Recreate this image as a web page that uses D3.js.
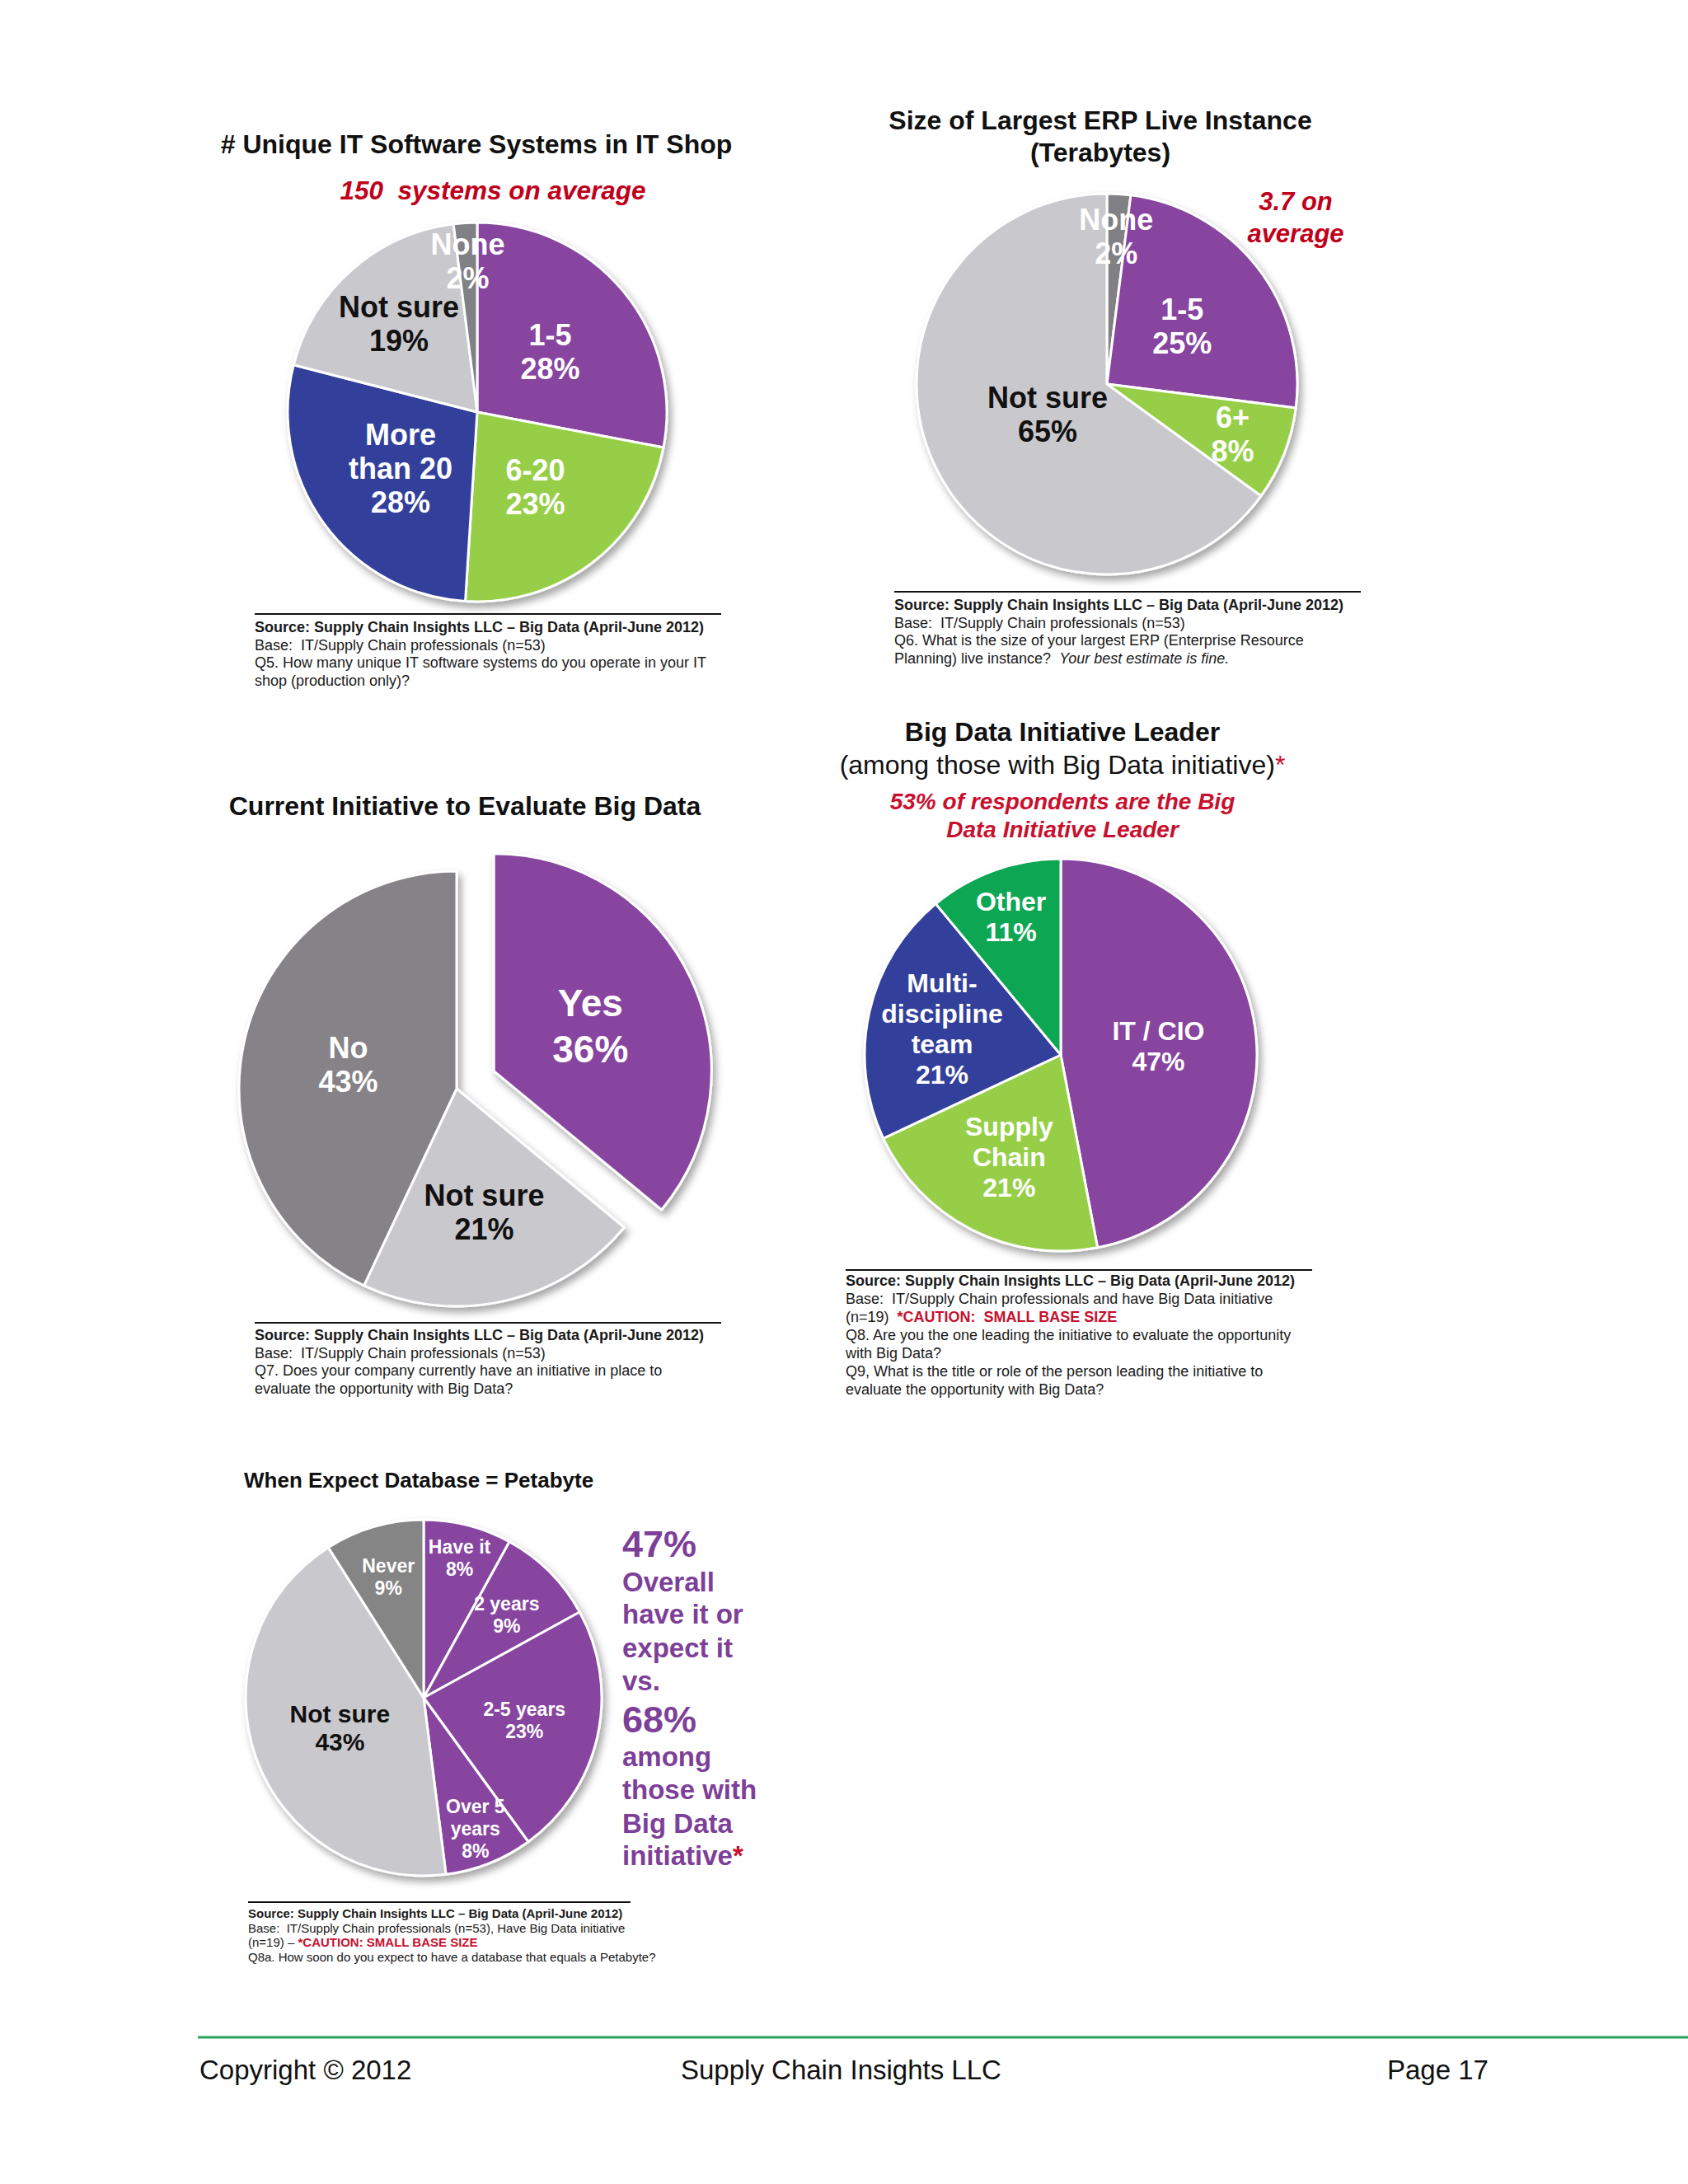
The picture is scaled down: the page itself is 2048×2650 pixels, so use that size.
<!DOCTYPE html>
<html><head><meta charset="utf-8">
<script src="https://cdn.jsdelivr.net/npm/d3@7"></script>
<style>
html,body{margin:0;padding:0;background:#fff;}
svg text{font-family:"Liberation Sans",Arial,Helvetica,sans-serif; white-space:pre;}
</style></head><body>
<svg id="page" width="2048" height="2650"></svg>
<script>
// ---------------- DATA ----------------
const itCategories = ["1-5","6-20","More than 20","Not sure","None"];
const itValues = [28,23,28,19,2];
const itLabelLines = [["1-5","28%"],["6-20","23%"],["More","than 20","28%"],["Not sure","19%"],["None","2%"]];

const erpCategories = ["None","1-5","6+","Not sure"];
const erpValues = [2,25,8,65];
const erpLabelLines = [["None","2%"],["1-5","25%"],["6+","8%"],["Not sure","65%"]];

const initCategories = ["Yes","Not sure","No"];
const initValues = [36,21,43];
const initLabelLines = [["Yes","36%"],["Not sure","21%"],["No","43%"]];

const leaderCategories = ["IT / CIO","Supply Chain","Multi-discipline team","Other"];
const leaderValues = [47,21,21,11];
const leaderLabelLines = [["IT / CIO","47%"],["Supply","Chain","21%"],["Multi-","discipline","team","21%"],["Other","11%"]];

const petaCategories = ["Have it","2 years","2-5 years","Over 5 years","Not sure","Never"];
const petaValues = [8,9,23,8,43,9];
const petaLabelLines = [["Have it","8%"],["2 years","9%"],["2-5 years","23%"],["Over 5","years","8%"],["Not sure","43%"],["Never","9%"]];

const petaSideText = ["47%","Overall","have it or","expect it","vs.","68%","among","those with","Big Data","initiative"];

const footerTexts = ["Copyright © 2012","Supply Chain Insights LLC","Page 17"];

// ---------------- STYLE ----------------
const PURPLE="#8744A0", GREEN="#96CF47", BLUE="#333F9B", LGRAY="#C9C8CC", DGRAY="#818084", OGREEN="#0BA653";
const RED="#C0001A", CRIMSON="#C8102E", PTEXT="#7D3F98";

const svg = d3.select("#page");
const defs = svg.append("defs");
const f = defs.append("filter").attr("id","shadow").attr("x","-20%").attr("y","-20%").attr("width","140%").attr("height","140%");
f.append("feDropShadow").attr("dx",4).attr("dy",6).attr("stdDeviation",5).attr("flood-color","#000").attr("flood-opacity",0.35);

function text(x,y,str,opt={}){
  const t = svg.append("text").attr("x",x).attr("y",y)
    .attr("font-size",opt.size||18).attr("font-weight",opt.weight||"normal")
    .attr("font-style",opt.style||"normal").attr("fill",opt.fill||"#111")
    .attr("text-anchor",opt.anchor||"start");
  if(Array.isArray(str)){
    str.forEach(s=>{ t.append("tspan").text(s.t).attr("fill",s.fill||null).attr("font-weight",s.weight||null).attr("font-style",s.style||null); });
  } else t.text(str);
  return t;
}

function drawPie(o){
  const g = svg.append("g").attr("transform",`translate(${o.cx},${o.cy})`);
  const pieData = d3.pie().sort(null).value(d=>d)(o.values);
  const arc = d3.arc().innerRadius(0).outerRadius(o.r);
  const sl = g.append("g").attr("filter","url(#shadow)");
  pieData.forEach((d,i)=>{
    const off=(o.explode&&o.explode[i])||0, mid=(d.startAngle+d.endAngle)/2;
    sl.append("path").attr("d",arc(d))
      .attr("transform",`translate(${Math.sin(mid)*off},${-Math.cos(mid)*off})`)
      .attr("fill",o.colors[i]).attr("stroke","#fff").attr("stroke-width",3).attr("stroke-linejoin","round");
  });
  pieData.forEach((d,i)=>{
    const off=(o.explode&&o.explode[i])||0, mid=(d.startAngle+d.endAngle)/2;
    const k=o.labelR[i]*o.r;
    const c=d3.arc().innerRadius(k).outerRadius(k).centroid(d);
    const cx=c[0]+Math.sin(mid)*off, cy=c[1]-Math.cos(mid)*off;
    const fs=(o.labelSize&&o.labelSize[i])||o.fontSize, lh=(o.lineH&&o.lineH[i])||o.lh;
    const lines=o.labels[i];
    lines.forEach((ln,j)=>{
      g.append("text").attr("x",cx).attr("y",cy+(j-(lines.length-1)/2)*lh+fs*0.36)
        .attr("text-anchor","middle").attr("font-size",fs).attr("font-weight","bold")
        .attr("fill",o.labelColors[i]).text(ln);
    });
  });
}

function source(x,ruleY,ruleW,y0,lh,size,lines){
  svg.append("line").attr("x1",x).attr("x2",x+ruleW).attr("y1",ruleY).attr("y2",ruleY).attr("stroke","#111").attr("stroke-width",2);
  lines.forEach((ln,i)=>text(x,y0+i*lh,ln,{size:size,fill:"#1a1a1a"}));
}
const SRC={t:"Source: Supply Chain Insights LLC – Big Data (April-June 2012)",weight:"bold"};

// ---------------- CHART 1 ----------------
text(578,186,"# Unique IT Software Systems in IT Shop",{size:32,weight:"bold",anchor:"middle"});
text(598,242,"150  systems on average",{size:31.5,weight:"bold",style:"italic",anchor:"middle",fill:RED});
drawPie({cx:579,cy:500,r:230,values:itValues,colors:[PURPLE,GREEN,BLUE,LGRAY,DGRAY],
  labels:itLabelLines,labelR:[0.5,0.5,0.5,0.625,0.8],fontSize:36,lh:41,
  labelColors:["#fff","#fff","#fff","#111","#fff"]});
source(309,745,566,767,21.5,18,[[SRC],"Base:  IT/Supply Chain professionals (n=53)",
  "Q5. How many unique IT software systems do you operate in your IT","shop (production only)?"]);

// ---------------- CHART 2 ----------------
text(1335,157,"Size of Largest ERP Live Instance",{size:32,weight:"bold",anchor:"middle"});
text(1335,196,"(Terabytes)",{size:32,weight:"bold",anchor:"middle"});
text(1572,255,"3.7 on",{size:31,weight:"bold",style:"italic",anchor:"middle",fill:RED});
text(1572,294,"average",{size:31,weight:"bold",style:"italic",anchor:"middle",fill:RED});
drawPie({cx:1343,cy:466,r:231,values:erpValues,colors:[DGRAY,PURPLE,GREEN,LGRAY],
  labels:erpLabelLines,labelR:[0.78,0.5,0.71,0.35],fontSize:36,lh:41,
  labelColors:["#fff","#fff","#fff","#111"]});
source(1085,718,566,740,21.5,18,[[SRC],"Base:  IT/Supply Chain professionals (n=53)",
  "Q6. What is the size of your largest ERP (Enterprise Resource",
  [{t:"Planning) live instance?  "},{t:"Your best estimate is fine.",style:"italic"}]]);

// ---------------- CHART 3 ----------------
text(564,989,"Current Initiative to Evaluate Big Data",{size:32,weight:"bold",anchor:"middle"});
drawPie({cx:554,cy:1321,r:264,values:initValues,colors:[PURPLE,LGRAY,"#858388"],explode:[50,0,0],
  labels:initLabelLines,labelR:[0.49,0.58,0.51],fontSize:36,lh:41,labelSize:[46,36,36],lineH:[56,41,41],
  labelColors:["#fff","#111","#fff"]});
source(309,1605,566,1626,21.5,18,[[SRC],"Base:  IT/Supply Chain professionals (n=53)",
  "Q7. Does your company currently have an initiative in place to","evaluate the opportunity with Big Data?"]);

// ---------------- CHART 4 ----------------
text(1289,899,"Big Data Initiative Leader",{size:32,weight:"bold",anchor:"middle"});
text(1289,939,[{t:"(among those with Big Data initiative)"},{t:"*",fill:CRIMSON}],{size:32,anchor:"middle"});
text(1289,982,"53% of respondents are the Big",{size:28,weight:"bold",style:"italic",anchor:"middle",fill:CRIMSON});
text(1289,1016,"Data Initiative Leader",{size:28,weight:"bold",style:"italic",anchor:"middle",fill:CRIMSON});
drawPie({cx:1287,cy:1280,r:238,values:leaderValues,colors:[PURPLE,GREEN,BLUE,OGREEN],
  labels:leaderLabelLines,labelR:[0.5,0.58,0.62,0.75],fontSize:32,lh:37,
  labelColors:["#fff","#fff","#fff","#fff"]});
source(1026,1541,566,1560,22,18,[[SRC],"Base:  IT/Supply Chain professionals and have Big Data initiative",
  [{t:"(n=19)  "},{t:"*CAUTION:  SMALL BASE SIZE",fill:CRIMSON,weight:"bold"}],
  "Q8. Are you the one leading the initiative to evaluate the opportunity","with Big Data?",
  "Q9, What is the title or role of the person leading the initiative to","evaluate the opportunity with Big Data?"]);

// ---------------- CHART 5 ----------------
text(296,1805,"When Expect Database = Petabyte",{size:26,weight:"bold"});
drawPie({cx:514,cy:2060,r:216,values:petaValues,colors:[PURPLE,PURPLE,PURPLE,PURPLE,LGRAY,"#858585"],
  labels:petaLabelLines,labelR:[0.81,0.66,0.58,0.79,0.5,0.71],fontSize:23,lh:27,
  labelSize:[23,23,23,23,30,23],lineH:[27,27,27,27,34,27],
  labelColors:["#fff","#fff","#fff","#fff","#111","#fff"]});
const sideY=[1889,1931,1970,2011,2051,2102,2143,2183,2224,2263];
petaSideText.forEach((s,i)=>{
  const big = s.endsWith("%");
  const content = (i===petaSideText.length-1)?[{t:s},{t:"*",fill:CRIMSON}]:s;
  text(755,sideY[i],content,{size:big?45:33,weight:"bold",fill:PTEXT});
});
source(301,2308,464,2327,17.5,15,[[SRC],"Base:  IT/Supply Chain professionals (n=53), Have Big Data initiative",
  [{t:"(n=19) – "},{t:"*CAUTION: SMALL BASE SIZE",fill:CRIMSON,weight:"bold"}],
  "Q8a. How soon do you expect to have a database that equals a Petabyte?"]);

// ---------------- FOOTER ----------------
svg.append("line").attr("x1",240).attr("x2",2048).attr("y1",2472).attr("y2",2472).attr("stroke","#27A35A").attr("stroke-width",3);
text(242,2523,footerTexts[0],{size:33});
text(826,2523,footerTexts[1],{size:33});
text(1683,2523,footerTexts[2],{size:33});
</script></body></html>
